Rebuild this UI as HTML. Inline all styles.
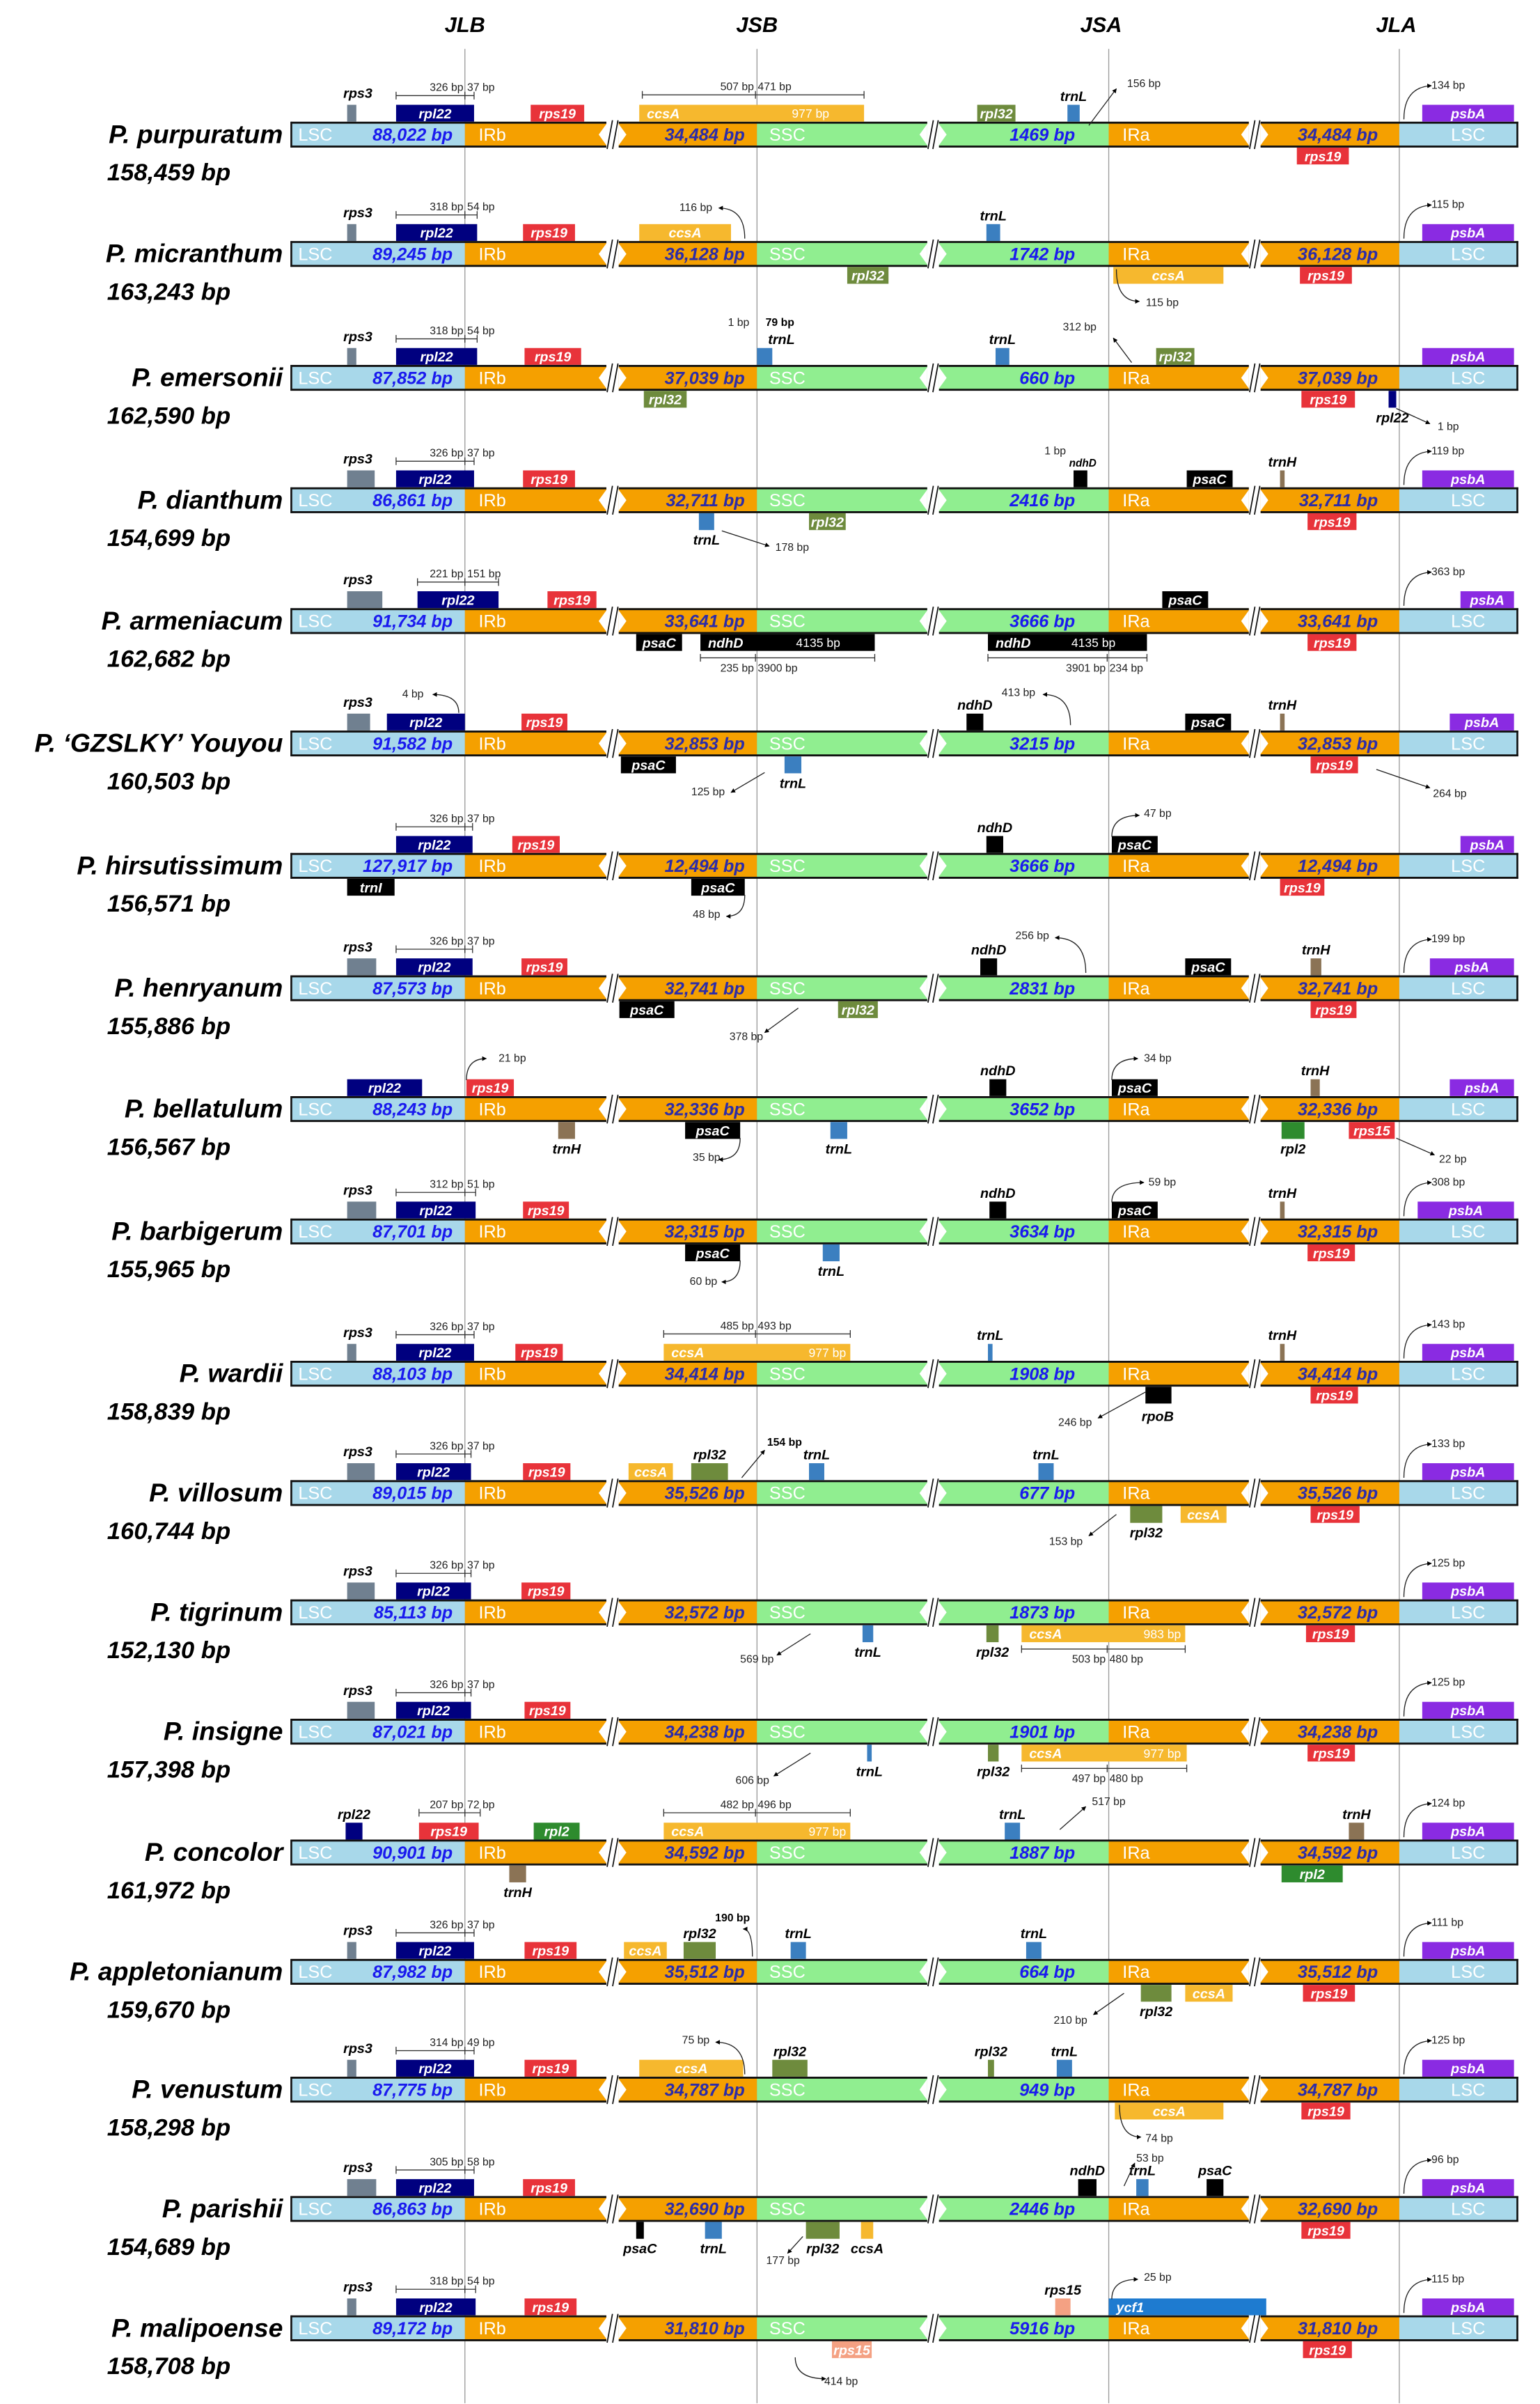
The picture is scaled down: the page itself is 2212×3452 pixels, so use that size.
<!DOCTYPE html>
<html><head><meta charset="utf-8"><style>
html,body{margin:0;padding:0;background:#fff;}
svg{display:block;}
text{font-family:"Liberation Sans Narrow","Liberation Sans",sans-serif;}
</style></head><body>
<svg id="s" width="2212" height="3452" viewBox="0 0 1007 1571.5" preserveAspectRatio="none" xmlns="http://www.w3.org/2000/svg">
<defs><marker id="ar" viewBox="0 0 10 10" refX="9" refY="5" markerWidth="5" markerHeight="5" orient="auto"><path d="M0,0 L10,5 L0,10 z" fill="#000"/></marker></defs>
<text x="304" y="21" font-size="14" font-weight="bold" font-style="italic" text-anchor="middle">JLB</text>
<text x="495" y="21" font-size="14" font-weight="bold" font-style="italic" text-anchor="middle">JSB</text>
<text x="720" y="21" font-size="14" font-weight="bold" font-style="italic" text-anchor="middle">JSA</text>
<text x="913" y="21" font-size="14" font-weight="bold" font-style="italic" text-anchor="middle">JLA</text>
<g id="g"></g>
</svg>
<script>
const C={G:'#708090',N:'#00007f',R:'#e8333a',Y:'#f6b82e',O:'#6e8b3d',B:'#3b7fc0',P:'#8a2be2',K:'#000',H:'#8b7355',E:'#2e8b2e',S:'#f4a183',C:'#1e7bd0'};
const cys=[88,166,247,327,406,486,566,646,725,805,898,976,1054,1132,1211,1289,1366,1444,1522];
const rows=[
{n:'P. purpuratum',t:'158,459 bp',s:['88,022 bp','34,484 bp','1469 bp'],r3:233,r22:310,d22:['326 bp','37 bp'],r19:[347,382],ps:930,jla:'134 bp',r19b:[848,882],
g:[[418,565,'u','Y','ccsA','iL'],[639,664,'u','O','rpl32','i'],[698,706,'u','B','trnL','a']],
a:[['tw',530,-11,'977 bp'],['d',420,565,-26,494,'507 bp','471 bp'],['a',712,-6,730,-30],['t',748,-31,'156 bp']]},
{n:'P. micranthum',t:'163,243 bp',s:['89,245 bp','36,128 bp','1742 bp'],r3:233,r22:312,d22:['318 bp','54 bp'],r19:[342,376],ps:930,jla:'115 bp',r19b:[850,884],
g:[[418,478,'u','Y','ccsA','i'],[645,654,'u','B','trnL','a'],[554,581,'d','O','rpl32','i'],[728,800,'d','Y','ccsA','i']],
a:[['c',487,-10,470,-30],['t',455,-28,'116 bp'],['c',730,10,745,31],['t',760,34,'115 bp']]},
{n:'P. emersonii',t:'162,590 bp',s:['87,852 bp','37,039 bp','660 bp'],r3:233,r22:312,d22:['318 bp','54 bp'],r19:[343,380],ps:930,r19b:[851,886],
g:[[495,505,'u','B','',''],[421,449,'d','O','rpl32','i'],[651,660,'u','B','trnL','a'],[756,781,'u','O','rpl32','i'],[908,913,'d','N','rpl22','b']],
a:[['t',483,-34,'1 bp'],['tb',510,-34,'79 bp'],['tg',511,-22,'trnL'],['t',706,-31,'312 bp'],['a',740,-10,728,-26],['a',913,20,935,30],['t',947,34,'1 bp']]},
{n:'P. dianthum',t:'154,699 bp',s:['86,861 bp','32,711 bp','2416 bp'],r3:245,r22:310,d22:['326 bp','37 bp'],r19:[342,376],ps:930,jla:'119 bp',r19b:[855,887],
g:[[457,467,'d','B','trnL','b'],[529,553,'d','O','rpl32','i'],[702,711,'u','K','',''],[776,806,'u','K','psaC','i'],[837,840,'u','H','trnH','a']],
a:[['a',472,20,503,30],['t',518,33,'178 bp'],['ts',708,-22,'ndhD'],['t',690,-30,'1 bp']]},
{n:'P. armeniacum',t:'162,682 bp',s:['91,734 bp','33,641 bp','3666 bp'],r3:250,r22:[273,326],d22:['221 bp','151 bp'],r19:[358,390],ps:955,jla:'363 bp',r19b:[855,887],
g:[[416,446,'d','K','psaC','i'],[458,572,'d','K','ndhD','iL'],[646,750,'d','K','ndhD','iL'],[760,790,'u','K','psaC','i']],
a:[['tw',535,17,'4135 bp'],['tw',715,17,'4135 bp'],['db',458,572,24,494,'235 bp','3900 bp'],['db',646,750,24,724,'3901 bp','234 bp']]},
{n:'P. \u2018GZSLKY\u2019 Youyou',t:'160,503 bp',s:['91,582 bp','32,853 bp','3215 bp'],r3:242,r22:[253,304],r19:[341,371],ps:948,r19b:[857,888],
g:[[406,442,'d','K','psaC','i'],[513,524,'d','B','trnL','b'],[632,643,'u','K','ndhD','a'],[775,805,'u','K','psaC','i'],[837,840,'u','H','trnH','a']],
a:[['t',270,-30,'4 bp'],['c',300,-20,283,-32],['t',666,-31,'413 bp'],['c',700,-12,682,-32],['t',463,34,'125 bp'],['a',500,19,478,32],['t',948,35,'264 bp'],['a',900,17,935,29]]},
{n:'P. hirsutissimum',t:'156,571 bp',s:['127,917 bp','12,494 bp','3666 bp'],r22:309,d22:['326 bp','37 bp'],r19:[335,366],ps:955,r19b:[837,866],
g:[[227,258,'d','K','trnI','i'],[452,487,'d','K','psaC','i'],[645,656,'u','K','ndhD','a'],[727,757,'u','K','psaC','i']],
a:[['t',462,34,'48 bp'],['c',487,19,475,33],['t',757,-32,'47 bp'],['c',727,-19,745,-33]]},
{n:'P. henryanum',t:'155,886 bp',s:['87,573 bp','32,741 bp','2831 bp'],r3:246,r22:309,d22:['326 bp','37 bp'],r19:[341,371],ps:935,jla:'199 bp',r19b:[857,887],
g:[[405,441,'d','K','psaC','i'],[548,574,'d','O','rpl32','i'],[641,652,'u','K','ndhD','a'],[775,805,'u','K','psaC','i'],[857,864,'u','H','trnH','a']],
a:[['t',488,34,'378 bp'],['a',522,13,500,29],['t',675,-32,'256 bp'],['c',710,-10,690,-33]]},
{n:'P. bellatulum',t:'156,567 bp',s:['88,243 bp','32,336 bp','3652 bp'],r22:[227,276],r19:[305,336],ps:948,
g:[[365,376,'d','H','trnH','b'],[448,484,'d','K','psaC','i'],[543,554,'d','B','trnL','b'],[647,658,'u','K','ndhD','a'],[727,757,'u','K','psaC','i'],[857,863,'u','H','trnH','a'],[838,853,'d','E','rpl2','b'],[882,912,'d','R','rps15','i']],
a:[['t',335,-31,'21 bp'],['c',305,-19,318,-33],['t',462,34,'35 bp'],['c',484,19,470,33],['t',757,-31,'34 bp'],['c',727,-19,744,-33],['t',950,35,'22 bp'],['a',913,19,938,30]]},
{n:'P. barbigerum',t:'155,965 bp',s:['87,701 bp','32,315 bp','3634 bp'],r3:246,r22:311,d22:['312 bp','51 bp'],r19:[342,372],ps:927,jla:'308 bp',r19b:[855,886],
g:[[448,484,'d','K','psaC','i'],[538,549,'d','B','trnL','b'],[647,658,'u','K','ndhD','a'],[727,757,'u','K','psaC','i'],[837,840,'u','H','trnH','a']],
a:[['t',460,35,'60 bp'],['c',484,19,472,33],['t',760,-30,'59 bp'],['c',727,-19,748,-32]]},
{n:'P. wardii',t:'158,839 bp',s:['88,103 bp','34,414 bp','1908 bp'],r3:233,r22:310,d22:['326 bp','37 bp'],r19:[337,368],ps:930,jla:'143 bp',r19b:[857,888],
g:[[434,556,'u','Y','ccsA','iL'],[646,649,'u','B','trnL','a'],[749,766,'d','K','','' ],[837,840,'u','H','trnH','a']],
a:[['tw',541,-11,'977 bp'],['d',434,556,-26,494,'485 bp','493 bp'],['tg',757,31,'rpoB'],['t',703,34,'246 bp'],['a',749,12,718,29]]},
{n:'P. villosum',t:'160,744 bp',s:['89,015 bp','35,526 bp','677 bp'],r3:245,r22:308,d22:['326 bp','37 bp'],r19:[342,373],ps:930,jla:'133 bp',r19b:[857,889],
g:[[411,440,'u','Y','ccsA','i'],[452,476,'u','O','rpl32','a'],[529,539,'u','B','trnL','a'],[679,689,'u','B','trnL','a'],[739,760,'d','O','rpl32','b'],[772,802,'d','Y','ccsA','i']],
a:[['tb',513,-31,'154 bp'],['a',485,-10,500,-28],['t',697,34,'153 bp'],['a',730,14,712,28]]},
{n:'P. tigrinum',t:'152,130 bp',s:['85,113 bp','32,572 bp','1873 bp'],r3:245,r22:308,d22:['326 bp','37 bp'],r19:[341,373],ps:930,jla:'125 bp',r19b:[854,886],
g:[[564,571,'d','B','trnL','b'],[645,653,'d','O','rpl32','b'],[668,775,'d','Y','ccsA','iL']],
a:[['tw',760,17,'983 bp'],['db',668,775,24,724,'503 bp','480 bp'],['t',495,33,'569 bp'],['a',530,14,508,28]]},
{n:'P. insigne',t:'157,398 bp',s:['87,021 bp','34,238 bp','1901 bp'],r3:245,r22:308,d22:['326 bp','37 bp'],r19:[343,373],ps:930,jla:'125 bp',r19b:[855,886],
g:[[567,570,'d','B','trnL','b'],[646,653,'d','O','rpl32','b'],[668,776,'d','Y','ccsA','iL']],
a:[['tw',760,17,'977 bp'],['db',668,776,24,724,'497 bp','480 bp'],['t',492,34,'606 bp'],['a',530,14,506,29]]},
{n:'P. concolor',t:'161,972 bp',s:['90,901 bp','34,592 bp','1887 bp'],r19:[274,313],ps:930,jla:'124 bp',
g:[[226,237,'u','N','rpl22','a'],[349,379,'u','E','rpl2','i'],[333,344,'d','H','trnH','b'],[434,556,'u','Y','ccsA','iL'],[657,667,'u','B','trnL','a'],[882,892,'u','H','trnH','a'],[838,878,'d','E','rpl2','i']],
a:[['d',274,314,-26,304,'207 bp','72 bp'],['tw',541,-11,'977 bp'],['d',434,556,-26,494,'482 bp','496 bp'],['t',725,-31,'517 bp'],['a',693,-15,710,-30]]},
{n:'P. appletonianum',t:'159,670 bp',s:['87,982 bp','35,512 bp','664 bp'],r3:233,r22:310,d22:['326 bp','37 bp'],r19:[343,377],ps:930,jla:'111 bp',r19b:[852,886],
g:[[408,436,'u','Y','ccsA','i'],[447,468,'u','O','rpl32','a'],[517,527,'u','B','trnL','a'],[671,681,'u','B','trnL','a'],[746,766,'d','O','rpl32','b'],[775,806,'d','Y','ccsA','i']],
a:[['tb',479,-33,'190 bp'],['c',492,-10,486,-28],['t',700,34,'210 bp'],['a',735,14,715,28]]},
{n:'P. venustum',t:'158,298 bp',s:['87,775 bp','34,787 bp','949 bp'],r3:233,r22:310,d22:['314 bp','49 bp'],r19:[343,377],ps:930,jla:'125 bp',r19b:[851,883],
g:[[418,486,'u','Y','ccsA','i'],[505,528,'u','O','rpl32','a'],[646,650,'u','O','rpl32','a'],[691,701,'u','B','trnL','a'],[729,800,'d','Y','ccsA','i']],
a:[['t',455,-30,'75 bp'],['c',487,-10,468,-31],['t',758,34,'74 bp'],['c',732,10,746,31]]},
{n:'P. parishii',t:'154,689 bp',s:['86,863 bp','32,690 bp','2446 bp'],r3:246,r22:310,d22:['305 bp','58 bp'],r19:[342,376],ps:930,jla:'96 bp',r19b:[851,883],
g:[[416,421,'d','K','psaC','b'],[461,472,'d','B','trnL','b'],[527,549,'d','O','rpl32','b'],[563,571,'d','Y','ccsA','b'],[705,717,'u','K','ndhD','a'],[743,751,'u','B','trnL','a'],[789,800,'u','K','psaC','a']],
a:[['t',512,36,'177 bp'],['a',525,18,515,29],['t',752,-31,'53 bp'],['a',735,-15,742,-30]]},
{n:'P. malipoense',t:'158,708 bp',s:['89,172 bp','31,810 bp','5916 bp'],r3:233,r22:311,d22:['318 bp','54 bp'],r19:[343,377],ps:930,jla:'115 bp',r19b:[852,884],
g:[[544,570,'d','S','rps15','i'],[690,700,'u','S','rps15','a'],[725,828,'u','C','ycf1','iL']],
a:[['t',550,37,'414 bp'],['c',520,19,540,33],['t',757,-31,'25 bp'],['c',727,-19,744,-32]]}
];
let o='';
const T=(x,y,s,st)=>`<text x="${x}" y="${y}" ${st}>${s}</text>`;
const small='font-size="7.2" fill="#222"';
const GL='font-size="9" font-weight="bold" font-style="italic"';
[304,495,725,915].forEach(x=>{o+=`<line x1="${x}" y1="32" x2="${x}" y2="1571" stroke="#999" stroke-width="0.6"/>`;});
function gene(cy,x1,x2,side,col,lab,lp){
  const top=side=='u'?cy-19.5:cy+8.5, bot=top+11;
  o+=`<rect x="${x1}" y="${top}" width="${x2-x1}" height="11" fill="${C[col]}"/>`;
  if(!lab)return;
  if(lp=='i') o+=T((x1+x2)/2,top+8.8,lab,`${GL} fill="#fff" text-anchor="middle"`);
  else if(lp=='iL') o+=T(x1+5,top+8.8,lab,`${GL} fill="#fff"`);
  else if(lp=='a') o+=T((x1+x2)/2,top-2.5,lab,`${GL} fill="#000" text-anchor="middle"`);
  else if(lp=='b') o+=T((x1+x2)/2,bot+9.5,lab,`${GL} fill="#000" text-anchor="middle"`);
}
function dim(x1,x2,y,tk,l1,l2,below){
  o+=`<g stroke="#333" stroke-width="0.6"><line x1="${x1}" y1="${y}" x2="${x2}" y2="${y}"/><line x1="${x1}" y1="${y-2.5}" x2="${x1}" y2="${y+2.5}"/><line x1="${x2}" y1="${y-2.5}" x2="${x2}" y2="${y+2.5}"/><line x1="${tk}" y1="${y-2.5}" x2="${tk}" y2="${y+2.5}"/></g>`;
  const ty=below?y+9:y-3;
  o+=T(tk-1,ty,l1,`${small} text-anchor="end"`)+T(tk+1.5,ty,l2,small);
}
const segs=[[190,304,'#a8d8ea',0,0],[304,396.5,'#f5a000',0,1],[404.6,495,'#f5a000',1,0],[495,606.3,'#90ee90',0,1],[614,725,'#90ee90',1,0],[725,816.6,'#f5a000',0,1],[824.3,915,'#f5a000',1,0],[915,992.8,'#a8d8ea',0,0]];
rows.forEach((r,i)=>{
  const cy=cys[i], top=cy-8.4, bot=cy+8.4;
  segs.forEach(s=>{
    o+=`<rect x="${s[0]}" y="${top}" width="${s[1]-s[0]}" height="16.8" fill="${s[2]}"/>`;
    if(s[3]) o+=`<polygon points="${s[0]},${top+1.5} ${s[0]+5},${cy} ${s[0]},${bot-1.5}" fill="#fff"/>`;
    if(s[4]) o+=`<polygon points="${s[1]},${top+1.5} ${s[1]-5},${cy} ${s[1]},${bot-1.5}" fill="#fff"/>`;
  });
  [[190,396.5],[404.6,606.3],[614,816.6],[824.3,992.8]].forEach(p=>{
    o+=`<line x1="${p[0]}" y1="${top+0.6}" x2="${p[1]}" y2="${top+0.6}" stroke="#111" stroke-width="1.3"/><line x1="${p[0]}" y1="${bot-0.6}" x2="${p[1]}" y2="${bot-0.6}" stroke="#111" stroke-width="1.3"/>`;
  });
  [[396.5,404.6],[606.3,614],[816.6,824.3]].forEach(p=>{
    o+=`<line x1="${p[0]+0.5}" y1="${bot+1}" x2="${p[0]+4}" y2="${top-1}" stroke="#111" stroke-width="0.8"/><line x1="${p[1]-4}" y1="${bot+1}" x2="${p[1]-0.5}" y2="${top-1}" stroke="#111" stroke-width="0.8"/>`;
  });
  o+=`<line x1="190.5" y1="${top}" x2="190.5" y2="${bot}" stroke="#111" stroke-width="1.2"/><line x1="992.2" y1="${top}" x2="992.2" y2="${bot}" stroke="#111" stroke-width="1.2"/>`;
  const bl='font-size="11.5" font-weight="bold" font-style="italic"';
  const wl='font-size="11.5" fill="#fff"';
  o+=T(195,cy+4,'LSC',wl)+T(296,cy+4,r.s[0],`${bl} fill="#1a1aee" text-anchor="end"`);
  o+=T(313,cy+4,'IRb',wl)+T(487,cy+4,r.s[1],`${bl} fill="#2c2ca8" text-anchor="end"`);
  o+=T(503,cy+4,'SSC',wl)+T(703,cy+4,r.s[2],`${bl} fill="#1a1aee" text-anchor="end"`);
  o+=T(734,cy+4,'IRa',wl)+T(901,cy+4,r.s[1],`${bl} fill="#2c2ca8" text-anchor="end"`);
  o+=T(960,cy+4,'LSC',wl+' text-anchor="middle"');
  o+=T(185,cy+5.5,r.n,'font-size="17" font-weight="bold" font-style="italic" text-anchor="end"');
  o+=T(70,cy+30,r.t,'font-size="15.8" font-weight="bold" font-style="italic"');
  if(r.r3){gene(cy,227,r.r3,'u','G','','');o+=T(234,cy-24,'rps3',`${GL} text-anchor="middle"`);}
  if(r.r22){const a=Array.isArray(r.r22)?r.r22:[259,r.r22];gene(cy,a[0],a[1],'u','N','rpl22','i');if(r.d22)dim(a[0],a[1],cy-25.5,304,r.d22[0],r.d22[1]);}
  if(r.r19)gene(cy,r.r19[0],r.r19[1],'u','R','rps19','i');
  if(r.ps)gene(cy,r.ps,990,'u','P','psbA','i');
  if(r.jla){o+=`<path d="M918,${cy-10} Q918,${cy-31} 936,${cy-32}" fill="none" stroke="#222" stroke-width="0.6" marker-end="url(#ar)"/>`;o+=T(936,cy-30,r.jla,small);}
  if(r.r19b)gene(cy,r.r19b[0],r.r19b[1],'d','R','rps19','i');
  r.g.forEach(g=>gene(cy,g[0],g[1],g[2],g[3],g[4],g[5]));
  r.a.forEach(a=>{
    if(a[0]=='t')o+=T(a[1],cy+a[2],a[3],`${small} text-anchor="middle"`);
    else if(a[0]=='tb')o+=T(a[1],cy+a[2],a[3],`font-size="7.2" font-weight="bold" text-anchor="middle"`);
    else if(a[0]=='tw')o+=T(a[1],cy+a[2],a[3],`font-size="8" fill="#fff" text-anchor="middle"`);
    else if(a[0]=='tg')o+=T(a[1],cy+a[2],a[3],`${GL} text-anchor="middle"`);
    else if(a[0]=='ts')o+=T(a[1],cy+a[2],a[3],`font-size="7" font-weight="bold" font-style="italic" text-anchor="middle"`);
    else if(a[0]=='a')o+=`<line x1="${a[1]}" y1="${cy+a[2]}" x2="${a[3]}" y2="${cy+a[4]}" stroke="#222" stroke-width="0.6" marker-end="url(#ar)"/>`;
    else if(a[0]=='c')o+=`<path d="M${a[1]},${cy+a[2]} Q${a[1]},${cy+a[4]} ${a[3]},${cy+a[4]}" fill="none" stroke="#222" stroke-width="0.6" marker-end="url(#ar)"/>`;
    else if(a[0]=='d')dim(a[1],a[2],cy+a[3],a[4],a[5],a[6],false);
    else if(a[0]=='db')dim(a[1],a[2],cy+a[3],a[4],a[5],a[6],true);
  });
});
document.getElementById('g').innerHTML=o;
</script>
</body></html>
